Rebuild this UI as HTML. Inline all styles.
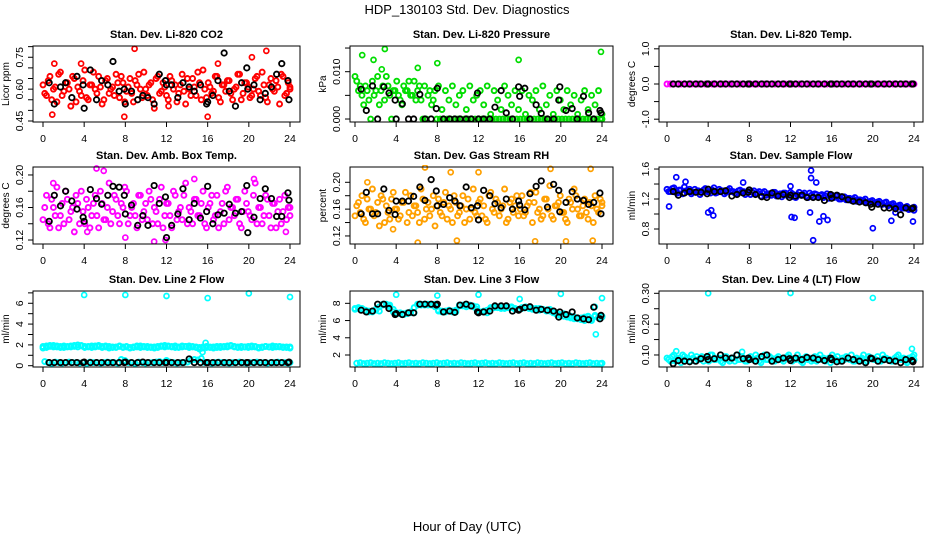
<!DOCTYPE html>
<html><head><meta charset="utf-8"><style>
html,body{margin:0;padding:0;background:#fff;}
svg{display:block;font-family:"Liberation Sans",sans-serif;}
</style></head><body>
<svg id="chart" width="936" height="540" viewBox="0 0 936 540" xmlns="http://www.w3.org/2000/svg">
<text x="467" y="14" text-anchor="middle" font-size="13">HDP_130103  Std. Dev. Diagnostics</text>
<text x="467" y="531" text-anchor="middle" font-size="13">Hour of Day (UTC)</text>
</svg>
<script>
const blackHours = [0.6,1.1,1.7,2.2,2.8,3.3,3.9,4.0,4.6,5.2,5.7,6.3,6.8,7.4,7.9,8.0,8.6,9.2,9.7,10.2,10.8,11.3,11.9,12.0,12.5,13.1,13.6,14.2,14.7,15.3,15.9,16.0,16.5,17.0,17.6,18.1,18.7,19.3,19.8,19.9,20.5,21.1,21.6,22.2,22.7,23.2,23.8,23.9];
const xTicks = [0,4,8,12,16,20,24];

const co2Vals = [0.62,0.57,0.66,0.60,0.54,0.68,0.59,0.63,0.52,0.65,0.61,0.57,0.69,0.55,0.62,0.60,0.66,0.53,0.64,0.58,0.61,0.67,0.56,0.63,0.59,0.65,0.54,0.62,0.60,0.68,0.57,0.63,0.51,0.66,0.59,0.61,0.55,0.64,0.62,0.58,0.67,0.53,0.60,0.65,0.57,0.63,0.69,0.56,0.61,0.59,0.66,0.54,0.62,0.64,0.58,0.60,0.67,0.55,0.63,0.61,0.57,0.65,0.59,0.68,0.56,0.62,0.60,0.64,0.53,0.66,0.58,0.61];
const co2Vals2 = [0.58,0.64,0.55,0.61,0.67,0.57,0.63,0.60,0.66,0.54,0.59,0.64,0.56,0.62,0.68,0.58,0.61,0.55,0.65,0.60,0.57,0.63,0.66,0.54,0.61,0.58,0.64,0.67,0.56,0.60,0.62,0.55,0.65,0.58,0.63,0.57,0.66,0.60,0.54,0.62,0.59,0.65,0.57,0.61,0.68,0.55,0.60,0.63,0.58,0.66,0.56,0.62,0.59,0.64,0.55,0.61,0.67,0.58,0.63,0.56,0.60,0.66,0.57,0.62,0.54,0.65,0.59,0.61,0.67,0.57,0.63,0.60];
const co2OutHours = [1.1,3.7,8.9,16.0,21.7,20.3,0.9,12.2,7.9,17.0];
const co2OutVals = [0.72,0.72,0.79,0.47,0.78,0.75,0.48,0.52,0.47,0.72];
const co2Black = [0.63,0.53,0.61,0.63,0.56,0.66,0.62,0.51,0.69,0.55,0.64,0.62,0.73,0.59,0.60,0.53,0.59,0.55,0.57,0.56,0.53,0.67,0.64,0.62,0.62,0.56,0.63,0.61,0.59,0.62,0.53,0.54,0.57,0.64,0.77,0.59,0.52,0.63,0.70,0.60,0.62,0.55,0.58,0.61,0.67,0.72,0.64,0.55];

const presVals = [0.009,0.006,0.005,0.007,0.004,0.008,0.006,0.003,0.007,0.009,0.005,0.006,0.008,0.004,0.007,0.006,0.005,0.008,0.006,0.004,0.007,0.005,0.003,0.006,0.007,0.002,0.006,0.004,0.007,0.003,0.005,0.006,0.002,0.007,0.004,0.005,0.006,0.003,0.007,0.001,0.006,0.004,0.002,0.007,0.005,0.003,0.006,0.002,0.006,0.001,0.005,0.004,0.006,0.002,0.007,0.003,0.005,0.001,0.006,0.004,0.002,0.006,0.003,0.005,0.001,0.004,0.006,0.002,0.005,0.003,0.006,0.001];
const presVals2 = [0.008,0.007,0.003,0.006,0,0.005,0.009,0.006,0.004,0.007,0,0.006,0.005,0.003,0.006,0.008,0.005,0.004,0.007,0,0,0.006,0.004,0,0,0,0,0,0,0,0,0,0,0,0,0,0,0,0,0,0,0,0,0,0,0,0,0,0,0,0,0,0,0,0,0,0,0,0,0,0,0,0,0,0,0,0,0,0,0,0,0];
const presOutHours = [0.7,1.8,2.9,6.1,8.0,15.9,23.9,2.6];
const presOutVals = [0.0135,0.0125,0.0148,0.0108,0.0118,0.0125,0.0142,0.0105];
const presBlack = [0.0063,0.0018,0.0070,0,0.0068,0.0055,0.0040,0,0.0032,0,0,0.0052,0,0,0.0022,0.0065,0,0,0,0,0,0,0.0055,0,0,0,0.0025,0.0060,0.0013,0,0.0068,0.0048,0.0065,0,0.0030,0.0012,0,0,0.0040,0.0068,0.0018,0.0022,0,0.0048,0.0013,0,0.0018,0.0013];

const tempVals = [0,0,0,0,0,0,0,0,0,0,0,0,0,0,0,0,0,0,0,0,0,0,0,0,0,0,0,0,0,0,0,0,0,0,0,0,0,0,0,0,0,0,0,0,0,0,0,0,0,0,0,0,0,0,0,0,0,0,0,0,0,0,0,0,0,0,0,0,0,0,0,0];
const tempBlack = [0,0,0,0,0,0,0,0,0,0,0,0,0,0,0,0,0,0,0,0,0,0,0,0,0,0,0,0,0,0,0,0,0,0,0,0,0,0,0,0,0,0,0,0,0,0,0,0];

const ambVals = [0.145,0.175,0.135,0.16,0.185,0.15,0.14,0.17,0.155,0.13,0.165,0.18,0.14,0.16,0.15,0.175,0.135,0.165,0.145,0.19,0.155,0.17,0.14,0.16,0.18,0.15,0.165,0.135,0.175,0.155,0.145,0.17,0.16,0.14,0.185,0.15,0.165,0.135,0.175,0.155,0.145,0.19,0.16,0.14,0.17,0.15,0.18,0.135,0.165,0.145,0.175,0.155,0.14,0.185,0.16,0.15,0.17,0.135,0.18,0.155,0.145,0.19,0.16,0.14,0.175,0.15,0.165,0.135,0.17,0.155,0.145,0.16];
const ambVals2 = [0.16,0.14,0.17,0.15,0.135,0.165,0.18,0.145,0.16,0.175,0.14,0.155,0.17,0.135,0.165,0.15,0.18,0.145,0.16,0.14,0.175,0.15,0.165,0.185,0.14,0.16,0.15,0.175,0.145,0.165,0.18,0.14,0.155,0.17,0.135,0.165,0.15,0.18,0.145,0.16,0.175,0.14,0.155,0.17,0.15,0.165,0.14,0.16,0.175,0.15,0.135,0.165,0.18,0.145,0.16,0.17,0.14,0.155,0.165,0.15,0.175,0.14,0.16,0.15,0.17,0.135,0.165,0.155,0.14,0.175,0.16,0.15];
const ambOutHours = [1.0,5.2,5.9,11.9,10.8,14.7,20.5,23.6,4.3,8.0];
const ambOutVals = [0.19,0.208,0.205,0.12,0.118,0.195,0.195,0.13,0.13,0.123];
const ambBlack = [0.143,0.175,0.162,0.18,0.168,0.158,0.148,0.143,0.182,0.171,0.164,0.175,0.186,0.185,0.175,0.152,0.163,0.138,0.15,0.138,0.187,0.165,0.173,0.123,0.138,0.152,0.183,0.145,0.165,0.147,0.155,0.186,0.14,0.151,0.153,0.164,0.153,0.155,0.187,0.129,0.148,0.171,0.183,0.171,0.149,0.149,0.178,0.169];

const rhVals = [0.15,0.17,0.18,0.14,0.16,0.19,0.155,0.135,0.175,0.165,0.145,0.185,0.16,0.15,0.17,0.14,0.18,0.165,0.155,0.19,0.145,0.17,0.16,0.135,0.175,0.15,0.185,0.165,0.14,0.17,0.155,0.18,0.16,0.145,0.19,0.15,0.175,0.165,0.14,0.185,0.155,0.17,0.16,0.19,0.145,0.175,0.165,0.15,0.18,0.155,0.17,0.14,0.185,0.16,0.15,0.175,0.195,0.145,0.165,0.18,0.155,0.14,0.17,0.19,0.16,0.15,0.175,0.145,0.165,0.18,0.155,0.17];
const rhVals2 = [0.165,0.155,0.145,0.175,0.16,0.15,0.17,0.18,0.14,0.155,0.175,0.16,0.145,0.17,0.185,0.155,0.15,0.165,0.14,0.175,0.16,0.15,0.18,0.165,0.155,0.17,0.145,0.16,0.18,0.15,0.165,0.14,0.175,0.16,0.155,0.17,0.15,0.145,0.18,0.16,0.175,0.15,0.165,0.14,0.17,0.155,0.18,0.16,0.15,0.165,0.185,0.17,0.155,0.145,0.175,0.16,0.15,0.165,0.17,0.155,0.145,0.175,0.16,0.18,0.15,0.165,0.155,0.17,0.14,0.16,0.175,0.165];
const rhOutHours = [6.8,9.9,6.1,17.5,20.5,23.1,19.0,22.9,9.3,12.0,3.7,1.2];
const rhOutVals = [0.222,0.113,0.11,0.112,0.112,0.113,0.22,0.22,0.215,0.215,0.13,0.2];
const rhBlack = [0.153,0.185,0.153,0.153,0.19,0.158,0.152,0.172,0.172,0.172,0.179,0.193,0.173,0.204,0.187,0.165,0.167,0.177,0.172,0.165,0.193,0.162,0.165,0.144,0.188,0.18,0.168,0.162,0.175,0.16,0.172,0.166,0.159,0.183,0.194,0.202,0.163,0.197,0.188,0.156,0.17,0.186,0.175,0.173,0.167,0.17,0.184,0.153];

const flowVals = [1.33,1.30,1.35,1.28,1.32,1.36,1.30,1.27,1.33,1.31,1.29,1.34,1.30,1.32,1.28,1.33,1.31,1.29,1.34,1.30,1.27,1.32,1.30,1.29,1.26,1.31,1.28,1.24,1.30,1.27,1.25,1.29,1.26,1.23,1.28,1.25,1.27,1.22,1.29,1.26,1.24,1.28,1.23,1.26,1.25,1.22,1.27,1.24,1.22,1.25,1.20,1.23,1.21,1.18,1.22,1.19,1.17,1.20,1.16,1.18,1.15,1.17,1.13,1.16,1.12,1.14,1.10,1.12,1.08,1.10,1.07,1.09];
const flowVals2 = [1.30,1.34,1.29,1.32,1.27,1.31,1.33,1.29,1.30,1.26,1.32,1.30,1.28,1.35,1.29,1.31,1.27,1.32,1.30,1.28,1.31,1.29,1.26,1.32,1.29,1.27,1.30,1.28,1.25,1.27,1.29,1.24,1.27,1.28,1.25,1.29,1.23,1.26,1.25,1.28,1.22,1.25,1.27,1.23,1.26,1.24,1.21,1.25,1.24,1.20,1.22,1.19,1.21,1.20,1.17,1.19,1.18,1.15,1.17,1.14,1.16,1.13,1.15,1.11,1.13,1.10,1.11,1.08,1.09,1.06,1.08,1.05];
const flowOutHours = [0.2,0.9,4.0,4.3,4.5,12.1,12.4,14.0,14.0,14.2,13.9,14.8,15.2,15.6,20.0,21.8,23.9,14.5,12.0,22.2,1.8,7.4];
const flowOutVals = [1.1,1.49,1.02,1.05,0.98,0.96,0.95,1.58,1.48,0.65,1.02,0.9,0.97,0.92,0.81,0.91,0.9,1.42,1.37,1.02,1.43,1.42];
const flowBlack = [1.30,1.25,1.28,1.30,1.29,1.29,1.27,1.33,1.30,1.30,1.31,1.24,1.26,1.28,1.29,1.32,1.26,1.23,1.22,1.28,1.24,1.26,1.22,1.25,1.24,1.25,1.22,1.22,1.22,1.18,1.26,1.21,1.25,1.23,1.19,1.17,1.16,1.15,1.13,1.09,1.13,1.08,1.08,1.07,0.99,1.08,1.07,1.08];

const l2Vals = [1.7,1.9,1.85,1.95,1.8,1.75,1.9,1.85,1.8,1.95,2.0,1.9,1.85,1.8,1.75,1.9,1.95,1.85,1.8,1.7,1.75,1.8,1.85,1.75,1.8,1.7,1.75,1.8,1.9,1.85,1.75,1.8,1.7,1.85,1.9,1.95,1.85,1.8,1.9,1.75,1.8,1.85,1.9,1.8,1.75,1.6,1.7,1.75,1.8,1.7,1.75,1.85,1.8,1.9,1.95,1.85,1.8,1.75,1.8,1.85,1.9,1.8,1.7,1.75,1.85,1.8,1.9,1.85,1.8,1.75,1.8,1.7];
const l2Low = [0.4,0.3,0.2,0.35,0.3,0.25,0.3,0.35,0.3,0.3,0.25,0.3,0.2,0.35,0.3,0.3,0.25,0.3,0.35,0.3,0.3,0.25,0.6,0.5,0.3,0.3,0.2,0.35,0.3,0.25,0.3,0.3,0.35,0.4,0.3,0.5,0.35,0.3,0.25,0.3,0.3,0.35,0.5,0.6,0.55,0.7,0.3,0.3,0.25,0.3,0.35,0.3,0.3,0.25,0.3,0.3,0.35,0.3,0.25,0.3,0.3,0.35,0.3,0.3,0.25,0.3,0.3,0.35,0.3,0.3,0.25,0.3];
const l2Vals2 = [1.85,1.75,1.95,1.8,1.9,1.85,1.75,1.8,1.9,1.85,1.8,1.95,1.75,1.85,1.9,1.8,1.85,1.75,1.9,1.85,1.8,1.75,1.9,1.8,1.85,1.75,1.8,1.9,1.75,1.8,1.85,1.75,1.8,1.75,1.85,1.8,1.9,1.85,1.75,1.8,1.9,1.85,1.75,1.85,1.8,1.75,1.8,1.85,1.75,1.8,1.85,1.75,1.85,1.8,1.9,1.8,1.75,1.85,1.8,1.75,1.8,1.85,1.75,1.8,1.85,1.8,1.75,1.8,1.85,1.8,1.75,1.8];
const l2OutHours = [4.0,8.0,12.0,16.0,20.0,24.0,15.8,15.5];
const l2OutVals = [6.8,6.8,6.7,6.5,6.95,6.6,2.2,1.3];
const l2Black = [0.3,0.3,0.3,0.3,0.3,0.3,0.3,0.35,0.3,0.3,0.3,0.3,0.3,0.3,0.3,0.35,0.3,0.3,0.35,0.3,0.3,0.3,0.3,0.3,0.3,0.3,0.3,0.65,0.3,0.3,0.3,0.3,0.3,0.3,0.3,0.3,0.3,0.3,0.3,0.3,0.3,0.3,0.3,0.3,0.3,0.3,0.3,0.35];

const l3Vals = [7.4,7.5,7.3,7.2,7.1,7.0,7.2,7.1,7.8,7.9,7.8,7.3,6.8,6.9,6.7,6.8,7.0,6.9,7.8,7.9,7.8,7.9,7.8,7.9,7.2,7.1,7.0,7.2,7.1,7.0,7.7,7.8,7.6,7.8,7.7,7.6,7.0,7.1,6.9,7.4,7.5,7.6,7.5,7.4,7.5,7.6,7.3,7.2,7.4,7.6,7.5,7.4,7.3,7.4,7.3,7.2,7.3,7.0,6.9,6.6,6.8,6.4,6.5,6.2,6.3,6.1,6.4,6.5,6.0,6.6,6.3,6.4];
const l3Low = [1.05,1.1,1.0,1.05,1.1,1.0,1.05,1.0,1.1,1.05,1.0,1.05,1.1,1.0,1.05,1.1,1.0,1.05,1.0,1.1,1.05,1.0,1.05,1.1,1.0,1.05,1.1,1.0,1.05,1.0,1.1,1.05,1.0,1.05,1.1,1.0,1.05,1.1,1.0,1.05,1.0,1.1,1.05,1.0,1.05,1.1,1.0,1.05,1.1,1.0,1.05,1.0,1.1,1.05,1.0,1.05,1.1,1.0,1.05,1.1,1.0,1.05,1.0,1.1,1.05,1.0,1.05,1.1,1.0,1.05,1.0,1.05];
const l3Vals2 = [7.3,7.4,7.4,7.1,7.0,7.1,7.3,7.6,7.9,7.8,7.6,7.0,6.9,6.8,6.8,6.9,6.9,7.5,7.9,7.8,7.9,7.8,7.9,7.6,7.1,7.0,7.1,7.1,7.0,7.2,7.8,7.7,7.7,7.7,7.6,7.3,7.0,7.0,7.2,7.5,7.6,7.5,7.4,7.5,7.6,7.5,7.4,7.3,7.5,7.5,7.4,7.3,7.4,7.2,7.3,7.1,7.1,6.9,6.7,6.7,6.5,6.6,6.3,6.4,6.2,6.3,6.0,6.4,6.2,6.5,6.4,6.5];
const l3OutHours = [4.0,8.0,12.0,16.0,20.0,24.0,23.4,23.3];
const l3OutVals = [9.0,8.9,9.0,8.5,9.1,8.6,4.4,7.6];
const l3Black = [7.2,7.0,7.1,7.9,7.9,7.4,6.7,6.8,6.7,6.9,6.9,7.9,7.9,7.9,7.8,7.9,7.0,7.1,6.95,7.8,7.9,7.7,7.0,6.9,7.0,7.1,7.7,7.7,7.7,7.1,7.2,7.3,7.5,7.6,7.2,7.3,7.2,7.1,6.4,7.0,6.7,7.0,6.3,6.2,6.1,7.55,6.2,6.6];

const l4Vals = [0.09,0.08,0.1,0.085,0.075,0.095,0.09,0.1,0.08,0.085,0.095,0.09,0.08,0.1,0.085,0.09,0.075,0.095,0.08,0.09,0.1,0.085,0.09,0.08,0.095,0.085,0.09,0.075,0.1,0.085,0.09,0.08,0.095,0.085,0.09,0.1,0.08,0.085,0.09,0.075,0.095,0.09,0.085,0.08,0.1,0.09,0.085,0.075,0.09,0.095,0.08,0.085,0.09,0.1,0.08,0.085,0.09,0.075,0.095,0.09,0.085,0.08,0.1,0.09,0.085,0.08,0.095,0.085,0.09,0.075,0.09,0.085];
const l4Vals2 = [0.085,0.095,0.08,0.09,0.1,0.085,0.08,0.09,0.095,0.085,0.08,0.09,0.1,0.085,0.09,0.08,0.095,0.085,0.09,0.08,0.085,0.095,0.08,0.09,0.085,0.1,0.08,0.09,0.085,0.095,0.08,0.09,0.085,0.08,0.095,0.09,0.085,0.1,0.08,0.09,0.085,0.08,0.095,0.09,0.085,0.08,0.09,0.1,0.085,0.08,0.09,0.095,0.085,0.08,0.09,0.085,0.1,0.08,0.09,0.085,0.095,0.08,0.09,0.085,0.08,0.09,0.1,0.085,0.08,0.09,0.095,0.1];
const l4OutHours = [4.0,12.0,20.0,23.8,0.9,7.3];
const l4OutVals = [0.300,0.301,0.285,0.12,0.112,0.11];
const l4Black = [0.072,0.082,0.08,0.078,0.08,0.088,0.095,0.085,0.088,0.1,0.09,0.09,0.1,0.088,0.09,0.085,0.08,0.095,0.1,0.08,0.085,0.09,0.088,0.082,0.09,0.085,0.092,0.09,0.085,0.082,0.09,0.085,0.078,0.08,0.09,0.085,0.08,0.075,0.09,0.088,0.08,0.085,0.082,0.08,0.075,0.085,0.082,0.078];

const NS = 'http://www.w3.org/2000/svg';
const svg = document.getElementById('chart');
function mk(tag, attrs, parent){
  const e = document.createElementNS(NS, tag);
  for (const k in attrs) e.setAttribute(k, attrs[k]);
  (parent||svg).appendChild(e);
  return e;
}
const cols = [{l:33,r:300,x0:43,x24:290},{l:350,r:613,x0:355,x24:602},{l:659,r:923,x0:667,x24:914}];
const rows = [{t:46,b:122},{t:167,b:244},{t:291,b:367}];

const panels = [
 {name:'co2',title:'Stan. Dev. Li-820 CO2',ylab:'Licor ppm',c:0,r:0,lo:0.4453,hi:0.803,ticks:[0.45,0.5,0.55,0.6,0.65,0.7,0.75,0.8],labels:{'0.45':'0.45','0.6':'0.60','0.75':'0.75'},color:'#ff0000',series:[co2Vals,co2Vals2],outH:co2OutHours,outV:co2OutVals,black:co2Black},
 {name:'pressure',title:'Stan. Dev. Li-820 Pressure',ylab:'kPa',c:1,r:0,lo:-0.00063,hi:0.01543,ticks:[0,0.005,0.01,0.015],labels:{'0':'0.000','0.01':'0.010'},color:'#00dd00',series:[presVals,presVals2],outH:presOutHours,outV:presOutVals,black:presBlack},
 {name:'temp',title:'Stan. Dev. Li-820 Temp.',ylab:'degrees C',c:2,r:0,lo:-1.08,hi:1.08,ticks:[-1,-0.5,0,0.5,1],labels:{'-1':'-1.0','0':'0.0','1':'1.0'},color:'#ff00ff',series:[tempVals],outH:[],outV:[],black:tempBlack},
 {name:'amb-box-temp',title:'Stan. Dev. Amb. Box Temp.',ylab:'degrees C',c:0,r:1,lo:0.1151,hi:0.2098,ticks:[0.12,0.14,0.16,0.18,0.2],labels:{'0.12':'0.12','0.16':'0.16','0.2':'0.20'},color:'#ff00ff',series:[ambVals,ambVals2],outH:ambOutHours,outV:ambOutVals,black:ambBlack},
 {name:'gas-stream-rh',title:'Stan. Dev. Gas Stream RH',ylab:'percent',c:1,r:1,lo:0.108,hi:0.2228,ticks:[0.12,0.14,0.16,0.18,0.2],labels:{'0.12':'0.12','0.16':'0.16','0.2':'0.20'},color:'#ffa000',series:[rhVals,rhVals2],outH:rhOutHours,outV:rhOutVals,black:rhBlack},
 {name:'sample-flow',title:'Stan. Dev. Sample Flow',ylab:'ml/min',c:2,r:1,lo:0.6,hi:1.627,ticks:[0.8,1.0,1.2,1.4,1.6],labels:{'0.8':'0.8','1.2':'1.2','1.6':'1.6'},color:'#0000ff',series:[flowVals,flowVals2],outH:flowOutHours,outV:flowOutVals,black:flowBlack},
 {name:'line2-flow',title:'Stan. Dev. Line 2 Flow',ylab:'ml/min',c:0,r:2,lo:-0.125,hi:7.18,ticks:[0,1,2,3,4,5,6,7],labels:{'0':'0','2':'2','4':'4','6':'6'},color:'#00ffff',series:[l2Vals,l2Low,l2Vals2],outH:l2OutHours,outV:l2OutVals,black:l2Black},
 {name:'line3-flow',title:'Stan. Dev. Line 3 Flow',ylab:'ml/min',c:1,r:2,lo:0.608,hi:9.43,ticks:[2,4,6,8],labels:{'2':'2','4':'4','6':'6','8':'8'},color:'#00ffff',series:[l3Vals,l3Low,l3Vals2],outH:l3OutHours,outV:l3OutVals,black:l3Black},
 {name:'line4-flow',title:'Stan. Dev. Line 4 (LT) Flow',ylab:'ml/min',c:2,r:2,lo:0.061,hi:0.3075,ticks:[0.1,0.15,0.2,0.25,0.3],labels:{'0.1':'0.10','0.2':'0.20','0.3':'0.30'},color:'#00ffff',series:[l4Vals,l4Vals2],outH:l4OutHours,outV:l4OutVals,black:l4Black}
];

panels.forEach(p => {
  const C = cols[p.c], R = rows[p.r];
  const xs = h => C.x0 + (C.x24 - C.x0) * h / 24;
  const ys = v => R.b - (R.b - R.t) * (v - p.lo) / (p.hi - p.lo);
  const g = mk('g', {});
  
  
  const clip = mk('clipPath', {id: 'clip-' + p.name}, g);
  mk('rect', {x: C.l, y: R.t - 2, width: C.r - C.l, height: R.b - R.t + 2}, clip);
  const pts = mk('g', {'clip-path': 'url(#clip-' + p.name + ')'}, g);
  
  
  p.series.forEach((arr, k) => {
    const step = 24 / (arr.length - 1);
    arr.forEach((v, i) => {
      const h = Math.min(24, i * step + (k % 2) * step / 2);
      const c = mk('circle', {cx: xs(h), cy: ys(v), r: 2.5, fill: 'none', stroke: p.color, 'stroke-width': 1.9}, pts);
      
      
    });
  });
  p.outH.forEach((h, i) => {
    const c = mk('circle', {cx: xs(h), cy: ys(p.outV[i]), r: 2.5, fill: 'none', stroke: p.color, 'stroke-width': 1.7}, pts);
    
    
  });
  const n = Math.min(p.black.length, blackHours.length);
  for (let i = 0; i < n; i++) {
    const c = mk('circle', {cx: xs(blackHours[i]), cy: ys(p.black[i]), r: 2.7, fill: 'none', stroke: '#000', 'stroke-width': 1.8}, pts);
    
    
  }
  const box = mk('rect', {x: C.l, y: R.t, width: C.r - C.l, height: R.b - R.t, fill: 'none', stroke: '#000', 'stroke-width': 1}, g);
  
  
  const title = mk('text', {x: (C.l + C.r) / 2, y: R.t - 8, 'text-anchor': 'middle', 'font-size': 11, 'font-weight': 'bold'}, g);
  title.textContent = p.title;
  
  
  mk('line', {x1: xs(0), x2: xs(24), y1: R.b, y2: R.b, stroke: '#000'}, g);
  xTicks.forEach(t => {
    mk('line', {x1: xs(t), x2: xs(t), y1: R.b, y2: R.b + 5, stroke: '#000'}, g);
    const tl = mk('text', {x: xs(t), y: R.b + 20, 'text-anchor': 'middle', 'font-size': 10.5}, g);
    tl.textContent = t;
    
    
  });
  const t0 = p.ticks[0], t1 = p.ticks[p.ticks.length - 1];
  mk('line', {x1: C.l, x2: C.l, y1: ys(t0), y2: ys(t1), stroke: '#000'}, g);
  p.ticks.forEach(t => {
    const y = ys(t);
    mk('line', {x1: C.l - 5, x2: C.l, y1: y, y2: y, stroke: '#000'}, g);
    const key = String(t);
    if (p.labels[key] !== undefined) {
      const lx = C.l - 10;
      const tl = mk('text', {x: lx, y: y, 'text-anchor': 'middle', 'font-size': 10.5, transform: 'rotate(-90 ' + lx + ' ' + y + ')'}, g);
      tl.textContent = p.labels[key];
      
      
    }
  });
  const yx = C.l - 24, yy = (R.t + R.b) / 2;
  const yl = mk('text', {x: yx, y: yy, 'text-anchor': 'middle', 'font-size': 10, transform: 'rotate(-90 ' + yx + ' ' + yy + ')'}, g);
  yl.textContent = p.ylab;
  
  
});
</script>
</body></html>
